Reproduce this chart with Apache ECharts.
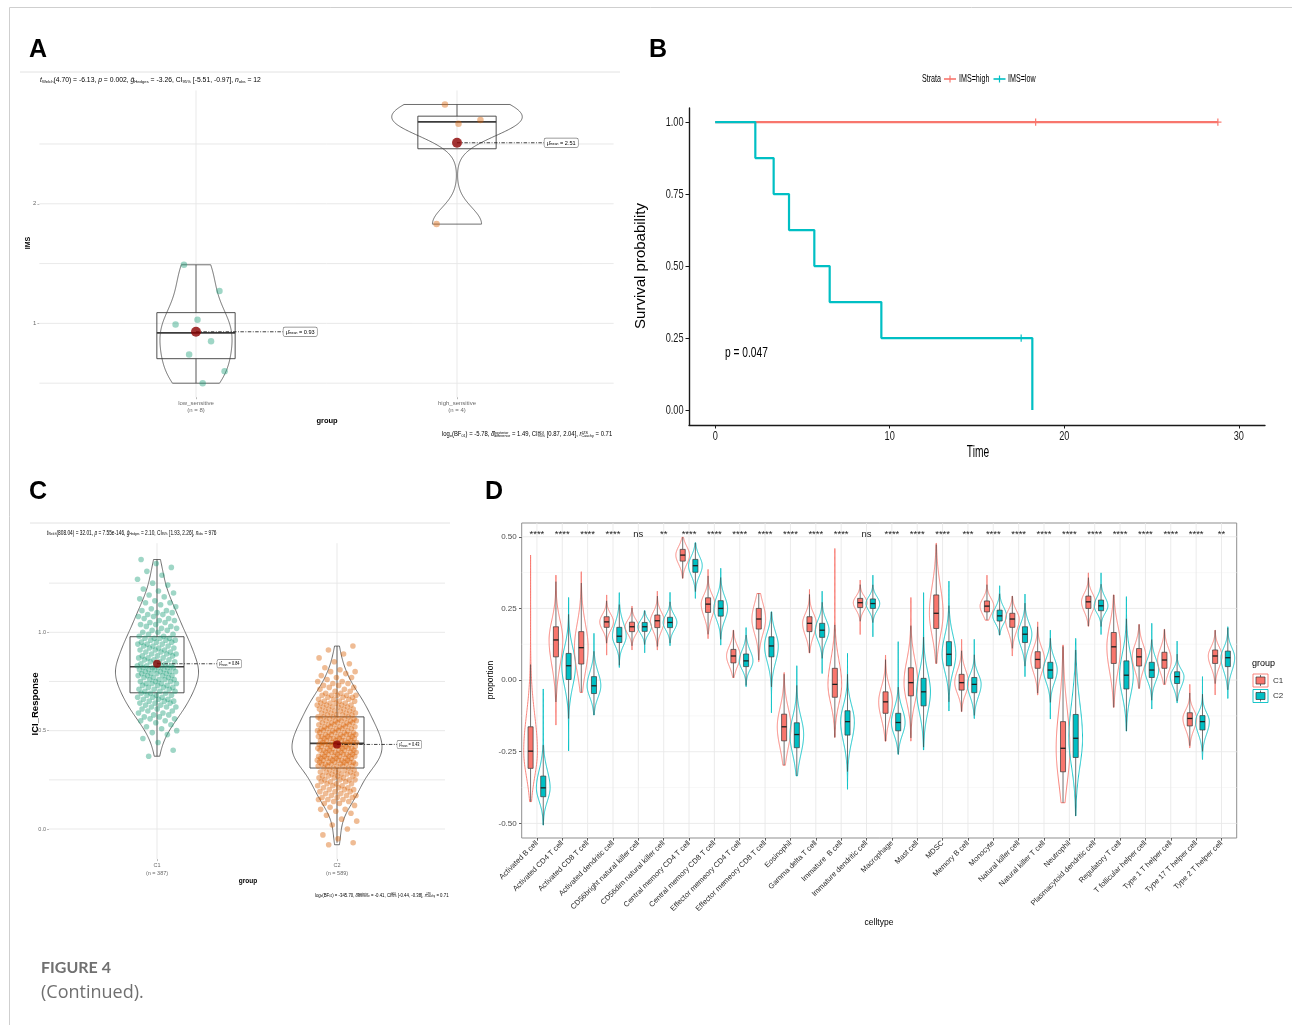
<!DOCTYPE html>
<html>
<head>
<meta charset="utf-8">
<title>Figure 4 (Continued)</title>
<script src="https://cdn.jsdelivr.net/npm/echarts@6/dist/echarts.min.js"></script>
<style>
html, body { margin: 0; padding: 0; background: #ffffff; }
#fig { width: 1292px; height: 1025px; }
</style>
</head>
<body>
<div id="fig"></div>
<script>
// ---------- A: IMS by drug-sensitivity group ----------
const imsGroups = ['low_sensitive', 'high_sensitive'];
const imsCounts = [8, 4];
const imsLow = [1.49, 1.27, 1.03, 0.99, 0.85, 0.74, 0.60, 0.50];
const imsHigh = [2.83, 2.70, 2.67, 1.83];
const imsMeans = [0.93, 2.51];
const imsTicks = [1, 2];
const imsGridVals = [0.5, 1, 1.5, 2, 2.5];

// ---------- B: Kaplan-Meier curves by IMS ----------
const kmStrata = ['IMS=high', 'IMS=low'];
const kmHighTime = [0, 28.8];
const kmHighSurv = [1, 1];
const kmHighCensorTime = [18.36, 28.8];
const kmHighCensorSurv = [1, 1];
const kmLowTime = [0, 2.3, 3.35, 4.23, 5.68, 6.56, 9.52, 18.17];
const kmLowSurv = [1, 0.875, 0.75, 0.625, 0.5, 0.375, 0.25, 0];
const kmLowCensorTime = [17.53];
const kmLowCensorSurv = [0.25];
const kmTimeTicks = [0, 10, 20, 30];
const kmSurvTicks = [0, 0.25, 0.5, 0.75, 1];
const kmPValue = 0.047;

// ---------- C: ICI response by cluster ----------
const iciGroups = ['C1', 'C2'];
const iciCounts = [387, 589];
const iciC1 = [
  0.37,0.40,0.44,0.46,0.48,0.49,0.50,0.51,0.52,0.53,
  0.54,0.55,0.55,0.56,0.56,0.57,0.57,0.58,0.58,
  0.59,0.59,0.60,0.60,0.61,0.61,0.62,0.62,0.62,0.63,0.63,0.64,0.64,0.64,0.65,0.65,0.65,0.66,0.66,0.66,0.67,0.67,0.67,0.68,0.68,0.68,0.69,0.69,
  0.69,0.70,0.70,0.70,0.71,0.71,0.71,0.72,0.72,0.72,0.73,0.73,0.73,0.74,0.74,0.74,0.74,0.75,0.75,0.75,0.76,0.76,0.76,0.76,0.77,0.77,0.77,0.78,0.78,0.78,0.78,0.79,0.79,0.79,0.79,0.80,0.80,0.80,0.80,0.81,0.81,0.81,0.81,0.82,0.82,0.82,0.82,0.82,
  0.83,0.83,0.83,0.83,0.84,0.84,0.84,0.85,0.85,0.85,0.86,0.86,0.86,0.87,0.87,0.87,0.88,0.88,0.88,0.89,0.89,0.89,0.90,0.90,0.90,0.91,0.91,0.91,0.92,0.92,0.92,0.93,0.93,0.93,0.94,0.94,0.94,0.95,0.95,0.95,0.96,0.96,0.96,0.97,0.97,0.97,0.97,
  0.98,0.98,0.99,0.99,1.00,1.00,1.01,1.01,1.02,1.02,1.03,1.03,1.04,1.04,1.05,1.05,1.06,1.06,1.07,1.07,1.08,1.08,1.09,1.09,1.10,1.10,1.11,1.11,1.12,
  1.13,1.14,1.15,1.15,1.16,1.17,1.18,1.19,1.20,1.21,
  1.22,1.24,1.25,1.27,1.29,1.31,1.33,1.35,1.37
];
const iciC2 = [
  -0.08,-0.07,-0.05,-0.03,0.00,0.02,0.04,0.05,0.07,0.08,0.09,0.10,0.10,0.11,0.12,
  0.13,0.13,0.14,0.14,0.15,0.15,0.15,0.16,0.16,0.16,0.17,0.17,0.17,0.18,
  0.18,0.19,0.19,0.19,0.20,0.20,0.20,0.21,0.21,0.21,0.22,0.22,0.22,0.23,0.23,0.23,0.24,0.24,0.24,0.25,0.25,0.25,0.25,0.26,0.26,0.26,0.27,0.27,0.27,0.27,0.28,0.28,0.28,0.28,0.29,0.29,0.29,0.29,0.30,0.30,0.30,0.30,0.31,0.31,
  0.31,0.32,0.32,0.32,0.32,0.32,0.33,0.33,0.33,0.33,0.33,0.33,0.34,0.34,0.34,0.34,0.34,0.34,0.35,0.35,0.35,0.35,0.35,0.35,0.36,0.36,0.36,0.36,0.36,0.36,
  0.37,0.37,0.37,0.37,0.37,0.37,0.38,0.38,0.38,0.38,0.38,0.38,0.39,0.39,0.39,0.39,0.39,0.39,0.40,0.40,0.40,0.40,0.40,0.40,0.41,0.41,0.41,0.41,0.41,0.41,
  0.42,0.42,0.42,0.42,0.42,0.42,0.43,0.43,0.43,0.43,0.43,0.43,
  0.44,0.44,0.44,0.44,0.44,0.44,0.45,0.45,0.45,0.45,0.45,0.45,0.46,0.46,0.46,0.46,0.46,0.46,0.47,0.47,0.47,0.47,0.47,0.47,0.48,0.48,0.48,0.48,0.48,0.48,
  0.49,0.49,0.49,0.49,0.49,0.50,0.50,0.50,0.50,0.50,0.51,0.51,0.51,0.51,0.51,0.52,0.52,0.52,0.52,0.52,0.53,0.53,0.53,0.53,0.53,
  0.54,0.54,0.54,0.54,0.54,0.55,0.55,0.55,0.55,0.55,0.56,0.56,0.56,0.56,0.56,0.57,0.57,
  0.57,0.57,0.58,0.58,0.58,0.58,0.59,0.59,0.59,0.59,0.60,0.60,0.60,0.60,0.61,0.61,0.61,0.61,0.62,0.62,0.62,0.62,0.63,0.63,0.63,0.63,0.64,0.64,0.64,0.64,0.65,0.65,0.65,0.66,0.66,0.66,0.67,0.67,0.67,0.68,0.68,0.68,0.68,
  0.68,0.69,0.69,0.70,0.70,0.71,0.71,0.72,0.72,0.73,0.73,0.74,0.74,0.75,0.75,
  0.76,0.77,0.77,0.78,0.79,0.80,0.80,0.81,0.82,0.84,0.85,0.87,0.89,0.91,0.93
];
const iciMeans = [0.84, 0.43];
const iciTicks = [0, 0.5, 1];
const iciGridVals = [0, 0.25, 0.5, 0.75, 1, 1.25];

// ---------- D: immune cell proportions, C1 vs C2 ----------
const cellTypes = [
  'Activated B cell', 'Activated CD4 T cell', 'Activated CD8 T cell', 'Activated dendritic cell',
  'CD56bright natural killer cell', 'CD56dim natural killer cell', 'Central memory CD4 T cell',
  'Central memory CD8 T cell', 'Effector memeory CD4 T cell', 'Effector memeory CD8 T cell',
  'Eosinophil', 'Gamma delta T cell', 'Immature  B cell', 'Immature dendritic cell', 'Macrophage',
  'Mast cell', 'MDSC', 'Memory B cell', 'Monocyte', 'Natural killer cell', 'Natural killer T cell',
  'Neutrophil', 'Plasmacytoid dendritic cell', 'Regulatory T cell', 'T follicular helper cell',
  'Type 1 T helper cell', 'Type 17 T helper cell', 'Type 2 T helper cell'
];
const sigLabels = ['****','****','****','****','ns','**','****','****','****','****','****','****','****','ns',
  '****','****','****','***','****','****','****','****','****','****','****','****','****','**'];
// five-number summaries per cell type: min, lower quartile, median, upper quartile, max
const c1Min = [-0.424,-0.157,-0.043,0.087,0.105,0.105,0.355,0.145,0.009,0.064,-0.297,0.095,-0.200,0.159,-0.213,-0.213,0.058,-0.110,0.209,0.084,-0.052,-0.428,0.188,-0.095,-0.029,-0.015,-0.236,-0.052];
const c1Q1  = [-0.308,0.081,0.056,0.184,0.169,0.183,0.415,0.236,0.060,0.178,-0.212,0.169,-0.060,0.253,-0.116,-0.055,0.180,-0.035,0.238,0.184,0.041,-0.320,0.250,0.058,0.049,0.041,-0.160,0.058];
const c1Med = [-0.248,0.140,0.113,0.203,0.186,0.207,0.436,0.265,0.084,0.213,-0.163,0.198,-0.015,0.270,-0.076,-0.009,0.233,-0.009,0.258,0.213,0.072,-0.238,0.273,0.116,0.081,0.070,-0.134,0.084];
const c1Q3  = [-0.163,0.186,0.169,0.221,0.202,0.227,0.456,0.287,0.107,0.250,-0.119,0.221,0.041,0.285,-0.041,0.043,0.297,0.020,0.276,0.233,0.099,-0.145,0.293,0.166,0.110,0.097,-0.114,0.105];
const c1Max = [0.436,0.366,0.378,0.297,0.258,0.310,0.498,0.386,0.174,0.302,0.026,0.316,0.459,0.349,0.087,0.288,0.477,0.142,0.366,0.293,0.203,0.122,0.374,0.297,0.194,0.177,-0.015,0.174];
const c2Min = [-0.506,-0.247,-0.122,0.044,0.095,0.120,0.285,0.122,-0.023,-0.114,-0.334,0.023,-0.381,0.151,-0.259,-0.244,-0.108,-0.134,0.157,0.012,-0.136,-0.474,0.159,-0.178,-0.101,-0.079,-0.277,-0.064];
const c2Q1  = [-0.407,0.002,-0.047,0.131,0.170,0.183,0.376,0.223,0.047,0.081,-0.236,0.149,-0.192,0.250,-0.177,-0.090,0.050,-0.044,0.206,0.131,0.006,-0.270,0.242,-0.031,0.009,-0.012,-0.174,0.047];
const c2Med = [-0.376,0.050,-0.020,0.153,0.186,0.201,0.399,0.250,0.067,0.119,-0.190,0.174,-0.145,0.267,-0.148,-0.041,0.090,-0.015,0.224,0.160,0.035,-0.203,0.259,0.017,0.035,0.012,-0.145,0.078];
const c2Q3  = [-0.335,0.093,0.012,0.184,0.201,0.219,0.421,0.277,0.091,0.151,-0.149,0.198,-0.107,0.283,-0.116,0.006,0.134,0.009,0.244,0.186,0.062,-0.120,0.279,0.067,0.062,0.029,-0.124,0.101];
const c2Max = [-0.031,0.288,0.163,0.305,0.242,0.306,0.479,0.390,0.183,0.238,0.050,0.310,0.093,0.366,0.134,0.305,0.345,0.142,0.329,0.300,0.174,0.145,0.374,0.291,0.198,0.136,0.012,0.186];
const propTicks = [-0.5, -0.25, 0, 0.25, 0.5];
const propMinor = [-0.375, -0.125, 0.125, 0.375];

// ================= drawing =================
const FONT = "'Liberation Sans', Arial, Helvetica, sans-serif";
const RED = '#F8766D', TEAL = '#00BFC4';
const PT_GREEN = '#1b9e77', PT_ORANGE = '#d95f02', MEAN_COL = '#8b0000';
const KM_SQUEEZE = 0.68;   // panel B text is set in a compressed face

// pixel boxes of the four plotting panels and their axis ranges
const P = {
  A: { box: { left: 39.4, top: 90.5, width: 574.2, height: 306.7 }, x: [0.4, 2.6], y: [0.383, 2.947] },
  B: { box: { left: 689, top: 108, width: 576, height: 317 }, x: [-1.5, 31.5], y: [-0.052, 1.049] },
  C: { box: { left: 49, top: 543.2, width: 396, height: 315.9 }, x: [0.4, 2.6], y: [-0.153, 1.453] },
  D: { box: { left: 521.7, top: 523, width: 715, height: 315 }, x: [0.4, 28.6], y: [-0.551, 0.548] }
};

// ---- small statistics helpers ----
const sortNum = a => a.slice().sort((p, q) => p - q);
function q7(s, p) {
  const h = (s.length - 1) * p, l = Math.floor(h), u = Math.min(l + 1, s.length - 1);
  return s[l] + (h - l) * (s[u] - s[l]);
}
function boxStats(vals) {
  const s = sortNum(vals);
  const q1 = q7(s, 0.25), md = q7(s, 0.5), q3 = q7(s, 0.75), iqr = q3 - q1;
  const lo = s.find(v => v >= q1 - 1.5 * iqr);
  const hi = s.slice().reverse().find(v => v <= q3 + 1.5 * iqr);
  return { q1, md, q3, lw: Math.min(lo, q1), hw: Math.max(hi, q3) };
}
function bwNrd0(vals) {
  const n = vals.length, m = vals.reduce((a, b) => a + b, 0) / n;
  const sd = Math.sqrt(vals.reduce((a, v) => a + (v - m) * (v - m), 0) / (n - 1));
  const s = sortNum(vals), iqr = q7(s, 0.75) - q7(s, 0.25);
  let lo = Math.min(sd, iqr / 1.34);
  if (!(lo > 0)) lo = sd;
  return 0.9 * lo * Math.pow(n, -0.2);
}
function kdeProfile(vals, steps) {
  const s = sortNum(vals), bw = bwNrd0(vals), lo = s[0], hi = s[s.length - 1];
  const norm = 1 / (vals.length * bw * Math.sqrt(2 * Math.PI));
  const out = [];
  for (let k = 0; k <= steps; k++) {
    const y = lo + (hi - lo) * k / steps;
    let d = 0;
    for (const v of vals) { const z = (y - v) / bw; d += Math.exp(-0.5 * z * z); }
    out.push([y, d * norm]);
  }
  return out;
}
function violinGroups(sets) {
  const groups = sets.map((vals, i) => ({ cat: i + 1, prof: kdeProfile(vals, 180), box: boxStats(vals) }));
  const maxD = Math.max(...groups.map(g => Math.max(...g.prof.map(p => p[1]))));
  groups.forEach(g => { g.maxD = maxD; });
  return groups;
}
// evenly spread horizontal jitter in [-1, 1]
const spread = i => 2 * ((i * 0.6180339887 + 0.29) % 1) - 1;

// ---- series builders ----
function gridLines(idx, pane, hMajor, vMajor, hMinor, majorCol, minorCol) {
  return {
    type: 'custom', xAxisIndex: idx, yAxisIndex: idx, z: 1, silent: true,
    data: [[(pane.x[0] + pane.x[1]) / 2, (pane.y[0] + pane.y[1]) / 2]],
    renderItem: (params, api) => {
      const ch = [];
      const seg = (a, b, col, w) => ch.push({ type: 'line', shape: { x1: a[0], y1: a[1], x2: b[0], y2: b[1] }, style: { stroke: col, lineWidth: w } });
      (hMinor || []).forEach(v => seg(api.coord([pane.x[0], v]), api.coord([pane.x[1], v]), minorCol, 0.6));
      hMajor.forEach(v => seg(api.coord([pane.x[0], v]), api.coord([pane.x[1], v]), majorCol, 0.9));
      vMajor.forEach(v => seg(api.coord([v, pane.y[0]]), api.coord([v, pane.y[1]]), majorCol, 0.9));
      return { type: 'group', children: ch };
    }
  };
}

function statPanelSeries(idx, sets, ptColors, ptSize, jitterW, means, dotSize, labelOff, labelFont, labelSqueeze) {
  const groups = violinGroups(sets);
  const out = [];
  out.push({
    type: 'custom', xAxisIndex: idx, yAxisIndex: idx, z: 2, silent: true,
    data: groups.map(g => [g.cat, g.box.md]),
    renderItem: (params, api) => {
      const g = groups[params.dataIndex];
      const right = g.prof.map(p => api.coord([g.cat + p[1] / g.maxD * 0.25, p[0]]));
      const left = g.prof.slice().reverse().map(p => api.coord([g.cat - p[1] / g.maxD * 0.25, p[0]]));
      const b = g.box;
      const tl = api.coord([g.cat - 0.15, b.q3]), br = api.coord([g.cat + 0.15, b.q1]);
      const mid = api.coord([g.cat, b.md]);
      const yHi = api.coord([g.cat, b.hw])[1], yLo = api.coord([g.cat, b.lw])[1];
      const ink = '#3c3c3c';
      return { type: 'group', children: [
        { type: 'polygon', shape: { points: right.concat(left) }, style: { fill: 'rgba(255,255,255,0)', stroke: '#4a4a4a', lineWidth: 0.8 } },
        { type: 'line', shape: { x1: mid[0], y1: tl[1], x2: mid[0], y2: yHi }, style: { stroke: ink, lineWidth: 0.8 } },
        { type: 'line', shape: { x1: mid[0], y1: br[1], x2: mid[0], y2: yLo }, style: { stroke: ink, lineWidth: 0.8 } },
        { type: 'rect', shape: { x: tl[0], y: tl[1], width: br[0] - tl[0], height: br[1] - tl[1] }, style: { fill: 'rgba(255,255,255,0)', stroke: ink, lineWidth: 0.9 } },
        { type: 'line', shape: { x1: tl[0], y1: mid[1], x2: br[0], y2: mid[1] }, style: { stroke: ink, lineWidth: 1.7 } }
      ] };
    }
  });
  sets.forEach((vals, gi) => {
    out.push({
      type: 'scatter', xAxisIndex: idx, yAxisIndex: idx, z: 3, silent: true,
      data: vals.map((v, i) => [gi + 1 + spread(i) * jitterW, v]),
      symbolSize: ptSize, itemStyle: { color: ptColors[gi], opacity: 0.42 }
    });
  });
  out.push({
    type: 'custom', xAxisIndex: idx, yAxisIndex: idx, z: 5, silent: true,
    data: means.map((m, i) => [i + 1, m]),
    renderItem: (params, api) => {
      const m = means[params.dataIndex], cat = params.dataIndex + 1;
      const a = api.coord([cat, m]), b = api.coord([cat + labelOff, m]);
      return { type: 'group', children: [
        { type: 'line', shape: { x1: a[0], y1: a[1], x2: b[0], y2: b[1] }, style: { stroke: '#111', lineWidth: 0.8, lineDash: [3.5, 1.5, 0.9, 1.5] } },
        { type: 'text', x: b[0], y: b[1], scaleX: labelSqueeze, style: {
          text: `{h|μ̂}{m|mean}{v| = ${m.toFixed(2)}}`,
          rich: {
            h: { fontSize: labelFont, fontFamily: FONT, color: '#222' },
            m: { fontSize: labelFont * 0.62, fontFamily: FONT, color: '#222', verticalAlign: 'bottom' },
            v: { fontSize: labelFont, fontFamily: FONT, color: '#222' }
          },
          align: 'left', verticalAlign: 'middle', backgroundColor: '#ffffff',
          borderColor: '#7a7a7a', borderWidth: 0.7, borderRadius: 1.5, padding: [1.5, 2.5, 1, 2.5]
        } }
      ] };
    }
  });
  out.push({
    type: 'scatter', xAxisIndex: idx, yAxisIndex: idx, z: 6, silent: true,
    data: means.map((m, i) => [i + 1, m]), symbolSize: dotSize, itemStyle: { color: MEAN_COL }
  });
  return out;
}

function censorMarks(idx, pts, color) {
  return {
    type: 'custom', xAxisIndex: idx, yAxisIndex: idx, z: 4, silent: true, data: pts,
    renderItem: (params, api) => {
      const c = api.coord([api.value(0), api.value(1)]);
      return { type: 'group', children: [
        { type: 'line', shape: { x1: c[0], y1: c[1] - 3.6, x2: c[0], y2: c[1] + 3.6 }, style: { stroke: color, lineWidth: 1.2 } },
        { type: 'line', shape: { x1: c[0] - 3.6, y1: c[1], x2: c[0] + 3.6, y2: c[1] }, style: { stroke: color, lineWidth: 1.2 } }
      ] };
    }
  };
}

// split-normal outline fitted to a five-number summary, trimmed to [min, max]
function summaryProfile(s, steps) {
  const [mn, q1, md, q3, mx] = s;
  const sL = Math.max((md - q1) / 0.6745, 1e-4), sR = Math.max((q3 - md) / 0.6745, 1e-4);
  const pts = [];
  for (let k = 0; k <= steps; k++) {
    const y = mn + (mx - mn) * k / steps;
    const z = (y - md) / (y < md ? sL : sR);
    pts.push([y, Math.exp(-0.5 * z * z)]);
  }
  return pts;
}
const dViolins = [];
cellTypes.forEach((name, i) => {
  const s1 = [c1Min[i], c1Q1[i], c1Med[i], c1Q3[i], c1Max[i]];
  const s2 = [c2Min[i], c2Q1[i], c2Med[i], c2Q3[i], c2Max[i]];
  dViolins.push({ cat: i + 1 - 0.25, s: s1, col: RED, prof: summaryProfile(s1, 160) });
  dViolins.push({ cat: i + 1 + 0.25, s: s2, col: TEAL, prof: summaryProfile(s2, 160) });
});

const series = [];
// ---- panel A
series.push(gridLines(0, P.A, imsGridVals, [1, 2], null, '#e6e6e6', '#e6e6e6'));
series.push(...statPanelSeries(0, [imsLow, imsHigh], [PT_GREEN, PT_ORANGE], 6.5, 0.11, imsMeans, 10, 0.335, 6.2, 0.9));
// ---- panel B
const pairs = (xs, ys) => xs.map((x, i) => [x, ys[i]]);
series.push({ type: 'line', xAxisIndex: 1, yAxisIndex: 1, z: 3, silent: true, step: 'end', symbol: 'none',
  data: pairs(kmHighTime, kmHighSurv), lineStyle: { color: RED, width: 2.2 }, itemStyle: { color: RED } });
series.push({ type: 'line', xAxisIndex: 1, yAxisIndex: 1, z: 3, silent: true, step: 'end', symbol: 'none',
  data: pairs(kmLowTime, kmLowSurv), lineStyle: { color: TEAL, width: 2.2 }, itemStyle: { color: TEAL } });
series.push(censorMarks(1, pairs(kmHighCensorTime, kmHighCensorSurv), RED));
series.push(censorMarks(1, pairs(kmLowCensorTime, kmLowCensorSurv), TEAL));
// tick labels of panel B, drawn in the compressed face
series.push({
  type: 'custom', xAxisIndex: 1, yAxisIndex: 1, z: 4, silent: true,
  data: kmTimeTicks.map(t => [t, P.B.y[0]]),
  renderItem: (params, api) => {
    const c = api.coord([api.value(0), api.value(1)]);
    return { type: 'text', x: c[0], y: c[1] + 11.5, scaleX: KM_SQUEEZE, style: { text: String(kmTimeTicks[params.dataIndex]),
      fontSize: 13.5, fontFamily: FONT, fill: '#1a1a1a', align: 'center', verticalAlign: 'middle' } };
  }
});
series.push({
  type: 'custom', xAxisIndex: 1, yAxisIndex: 1, z: 4, silent: true,
  data: kmSurvTicks.map(v => [P.B.x[0], v]),
  renderItem: (params, api) => {
    const c = api.coord([api.value(0), api.value(1)]);
    return { type: 'text', x: c[0] - 5.5, y: c[1], scaleX: KM_SQUEEZE, style: { text: kmSurvTicks[params.dataIndex].toFixed(2),
      fontSize: 13.5, fontFamily: FONT, fill: '#1a1a1a', align: 'right', verticalAlign: 'middle' } };
  }
});
// ---- panel C
series.push(gridLines(2, P.C, iciGridVals, [1, 2], null, '#e6e6e6', '#e6e6e6'));
series.push(...statPanelSeries(2, [iciC1, iciC2], [PT_GREEN, PT_ORANGE], 5.6, 0.11, iciMeans, 8, 0.335, 5.2, 0.75));
// ---- panel D
series.push(gridLines(3, P.D, propTicks, cellTypes.map((c, i) => i + 1), propMinor, '#e9e9e9', '#f4f4f4'));
series.push({
  type: 'custom', xAxisIndex: 3, yAxisIndex: 3, z: 2, silent: true,
  data: dViolins.map(v => [v.cat, v.s[2]]),
  renderItem: (params, api) => {
    const v = dViolins[params.dataIndex];
    const [mn, q1, md, q3, mx] = v.s, iqr = q3 - q1;
    const lw = Math.max(mn, q1 - 1.5 * iqr), hw = Math.min(mx, q3 + 1.5 * iqr);
    const right = v.prof.map(p => api.coord([v.cat + p[1] * 0.27, p[0]]));
    const left = v.prof.slice().reverse().map(p => api.coord([v.cat - p[1] * 0.27, p[0]]));
    const mid = api.coord([v.cat, md]);
    const tl = api.coord([v.cat - 0.1, q3]), br = api.coord([v.cat + 0.1, q1]);
    const yHi = api.coord([v.cat, hw])[1], yLo = api.coord([v.cat, lw])[1];
    return { type: 'group', children: [
      { type: 'polygon', shape: { points: right.concat(left) }, style: { fill: 'rgba(255,255,255,0)', stroke: v.col, lineWidth: 0.9 } },
      { type: 'line', shape: { x1: mid[0], y1: tl[1], x2: mid[0], y2: yHi }, style: { stroke: '#333', lineWidth: 0.7 } },
      { type: 'line', shape: { x1: mid[0], y1: br[1], x2: mid[0], y2: yLo }, style: { stroke: '#333', lineWidth: 0.7 } },
      { type: 'rect', shape: { x: tl[0], y: tl[1], width: br[0] - tl[0], height: br[1] - tl[1] }, style: { fill: v.col, stroke: '#333', lineWidth: 0.7 } },
      { type: 'line', shape: { x1: tl[0], y1: mid[1], x2: br[0], y2: mid[1] }, style: { stroke: '#1e1e1e', lineWidth: 1.3 } }
    ] };
  }
});
series.push({
  type: 'custom', xAxisIndex: 3, yAxisIndex: 3, z: 4, silent: true,
  data: sigLabels.map((s, i) => [i + 1, 0.49]),
  renderItem: (params, api) => {
    const c = api.coord([api.value(0), api.value(1)]);
    return { type: 'text', x: c[0], y: c[1], style: { text: sigLabels[params.dataIndex], fontSize: 9.5, fontFamily: FONT, fill: '#222', align: 'center', verticalAlign: 'bottom' } };
  }
});

// ---- axes
function axis(idx, range, extra) {
  return Object.assign({
    type: 'value', gridIndex: idx, min: range[0], max: range[1],
    splitLine: { show: false }, axisLine: { show: false, onZero: false },
    axisTick: { show: false }, axisLabel: { show: false }
  }, extra);
}
const faintTick = vals => ({ show: true, customValues: vals, length: 2, lineStyle: { color: '#8a8a8a', width: 0.6 } });
const xAxes = [
  axis(0, P.A.x, {
    axisTick: faintTick([1, 2]),
    axisLabel: { show: true, customValues: [1, 2], margin: 3, fontSize: 6, lineHeight: 7, color: '#6a6a6a', fontFamily: FONT,
      formatter: v => `${imsGroups[Math.round(v) - 1]}\n(n = ${imsCounts[Math.round(v) - 1]})` }
  }),
  axis(1, P.B.x, {
    axisLine: { show: true, onZero: false, lineStyle: { color: '#1a1a1a', width: 1.4 } },
    axisTick: { show: true, customValues: kmTimeTicks, length: 3.5, lineStyle: { color: '#1a1a1a', width: 1 } }
  }),
  axis(2, P.C.x, {
    axisTick: faintTick([1, 2]),
    axisLabel: { show: true, customValues: [1, 2], margin: 2, fontSize: 5.5, lineHeight: 8, color: '#6a6a6a', fontFamily: FONT,
      formatter: v => `${iciGroups[Math.round(v) - 1]}\n(n = ${iciCounts[Math.round(v) - 1]})` }
  }),
  axis(3, P.D.x, {
    axisTick: { show: true, customValues: cellTypes.map((c, i) => i + 1), length: 2.7, lineStyle: { color: '#333', width: 0.8 } },
    axisLabel: { show: true, customValues: cellTypes.map((c, i) => i + 1), rotate: 45, margin: 4, fontSize: 7.5, color: '#2b2b2b', fontFamily: FONT,
      formatter: v => cellTypes[Math.round(v) - 1] }
  })
];
const yAxes = [
  axis(0, P.A.y, {
    axisTick: faintTick(imsTicks),
    axisLabel: { show: true, customValues: imsTicks, margin: 3, fontSize: 6, color: '#6a6a6a', fontFamily: FONT, formatter: v => String(v) }
  }),
  axis(1, P.B.y, {
    axisLine: { show: true, onZero: false, lineStyle: { color: '#1a1a1a', width: 1.4 } },
    axisTick: { show: true, customValues: kmSurvTicks, length: 3.5, lineStyle: { color: '#1a1a1a', width: 1 } }
  }),
  axis(2, P.C.y, {
    axisTick: faintTick(iciTicks),
    axisLabel: { show: true, customValues: iciTicks, margin: 3, fontSize: 5.5, color: '#6a6a6a', fontFamily: FONT, formatter: v => v.toFixed(1) }
  }),
  axis(3, P.D.y, {
    axisTick: { show: true, customValues: propTicks, length: 2.7, lineStyle: { color: '#333', width: 0.8 } },
    axisLabel: { show: true, customValues: propTicks, margin: 5, fontSize: 8, color: '#4d4d4d', fontFamily: FONT, formatter: v => v.toFixed(2) }
  })
];

// ---- static text and decorations
function txt(x, y, text, size, o) {
  o = o || {};
  const style = { text, fontSize: size, fontFamily: o.family || FONT, fontWeight: o.weight || 'normal',
    fontStyle: o.italic ? 'italic' : 'normal', fill: o.color || '#000', align: o.align || 'left', verticalAlign: o.valign || 'middle' };
  if (o.rich) style.rich = o.rich;
  return { type: 'text', x, y, rotation: o.rotation || 0, scaleX: o.scaleX || 1, silent: true, z: 20, style };
}
const seg = (x1, y1, x2, y2, color, w) => ({ type: 'line', silent: true, z: 20, shape: { x1, y1, x2, y2 }, style: { stroke: color, lineWidth: w || 1 } });
function richText(parts) { return parts.map(([k, t]) => `{${k}|${t}}`).join(''); }
function richStyles(b, color) {
  const base = { fontFamily: FONT, color };
  return {
    n: Object.assign({ fontSize: b }, base),
    i: Object.assign({ fontSize: b, fontStyle: 'italic' }, base),
    s: Object.assign({ fontSize: b * 0.62, verticalAlign: 'bottom', align: 'left' }, base),
    u: Object.assign({ fontSize: b * 0.62, verticalAlign: 'top', align: 'left', width: 0.01 }, base)
  };
}
const subA = richText([['i','t'],['s','Welch'],['n','(4.70) = -6.13, '],['i','p'],['n',' = 0.002, '],['i','ĝ'],['s','Hedges'],
  ['n',' = -3.26, CI'],['s','95%'],['n',' [-5.51, -0.97], '],['i','n'],['s','obs'],['n',' = 12']]);
const capA = richText([['n','log'],['s','e'],['n','(BF'],['s','01'],['n',') = -5.78, '],['i','δ̂'],['u','posterior'],['s','difference'],
  ['n',' = 1.49, CI'],['u','HDI'],['s','95%'],['n',' [0.87, 2.04], '],['i','r'],['u','JZS'],['s','Cauchy'],['n',' = 0.71']]);
const subC = richText([['i','t'],['s','Welch'],['n','(808.04) = 32.01, '],['i','p'],['n',' = 7.55e-146, '],['i','ĝ'],['s','Hedges'],
  ['n',' = 2.10, CI'],['s','95%'],['n',' [1.93, 2.26], '],['i','n'],['s','obs'],['n',' = 976']]);
const capC = richText([['n','log'],['s','e'],['n','(BF'],['s','01'],['n',') = -345.70, '],['i','δ̂'],['u','posterior'],['s','difference'],
  ['n',' = -0.41, CI'],['u','HDI'],['s','95%'],['n',' [-0.44, -0.38], '],['i','r'],['u','JZS'],['s','Cauchy'],['n',' = 0.71']]);

function legendKey(x, y, col) {
  return [
    { type: 'rect', silent: true, z: 20, shape: { x: x, y: y, width: 15, height: 13 }, style: { fill: '#fff', stroke: col, lineWidth: 0.9 } },
    seg(x + 7.5, y + 1, x + 7.5, y + 12, '#333', 0.7),
    { type: 'rect', silent: true, z: 21, shape: { x: x + 3, y: y + 3, width: 9, height: 7 }, style: { fill: col, stroke: '#333', lineWidth: 0.7 } },
    seg(x + 3, y + 6.5, x + 12, y + 6.5, '#1e1e1e', 1.2)
  ];
}
function strataKey(cx, y, col) {
  return [seg(cx - 6, y, cx + 6, y, col, 1.6), seg(cx, y - 3.5, cx, y + 3.5, col, 1.2)];
}

const graphics = [
  seg(9.5, 7.5, 1292, 7.5, '#cfcfcf', 1),
  seg(9.5, 7.5, 9.5, 1025, '#cfcfcf', 1),
  txt(38, 50, 'A', 25, { weight: 'bold', align: 'center' }),
  txt(658, 50, 'B', 25, { weight: 'bold', align: 'center' }),
  txt(38, 492, 'C', 25, { weight: 'bold', align: 'center' }),
  txt(494, 492, 'D', 25, { weight: 'bold', align: 'center' }),
  // A
  seg(20, 72, 620, 72, '#e2e2e2', 1),
  txt(40, 80, subA, 7, { rich: richStyles(7, '#222'), scaleX: 0.97 }),
  txt(442, 434, capA, 6.8, { rich: richStyles(6.8, '#222'), scaleX: 0.87 }),
  txt(28, 243, 'IMS', 7, { weight: 'bold', align: 'center', rotation: Math.PI / 2 }),
  txt(327, 421, 'group', 7.5, { weight: 'bold', align: 'center' }),
  // B
  txt(922, 79, 'Strata', 10.5, { scaleX: KM_SQUEEZE }),
  ...strataKey(950, 79, RED),
  txt(959, 79, kmStrata[0], 10.5, { scaleX: KM_SQUEEZE }),
  ...strataKey(999.5, 79, TEAL),
  txt(1008, 79, kmStrata[1], 10.5, { scaleX: KM_SQUEEZE }),
  txt(725, 353, `p = ${kmPValue}`, 15, { scaleX: KM_SQUEEZE }),
  txt(978, 452, 'Time', 16.5, { align: 'center', scaleX: 0.62 }),
  txt(641, 266, 'Survival probability', 15, { align: 'center', rotation: Math.PI / 2 }),
  // C
  seg(30, 523, 450, 523, '#e2e2e2', 1),
  txt(47, 533, subC, 6.3, { rich: richStyles(6.3, '#222'), scaleX: 0.76 }),
  txt(315, 895, capC, 6, { rich: richStyles(6, '#222'), scaleX: 0.72 }),
  txt(35, 704, 'ICI_Response', 9.5, { weight: 'bold', align: 'center', rotation: Math.PI / 2 }),
  txt(248, 881, 'group', 6.5, { weight: 'bold', align: 'center' }),
  // D
  txt(879, 923, 'celltype', 8.5, { align: 'center' }),
  txt(491, 680, 'proportion', 8.5, { align: 'center', rotation: Math.PI / 2 }),
  txt(1252, 664, 'group', 9),
  ...legendKey(1253, 674, RED),
  txt(1273, 680.5, iciGroups[0], 8, { color: '#333' }),
  ...legendKey(1253, 689.5, TEAL),
  txt(1273, 696, iciGroups[1], 8, { color: '#333' }),
  // caption
  txt(41, 968, 'FIGURE 4', 16, { weight: 'bold', color: '#707070', family: "Lato, 'Open Sans', sans-serif" }),
  txt(41, 993, '(Continued).', 18, { color: '#707070', family: "'Open Sans', Lato, sans-serif" })
];

const chart = echarts.init(document.getElementById('fig'), null, { renderer: 'canvas', width: 1292, height: 1025 });
chart.setOption({
  animation: false,
  backgroundColor: '#ffffff',
  grid: [
    Object.assign({ show: false }, P.A.box),
    Object.assign({ show: false }, P.B.box),
    Object.assign({ show: false }, P.C.box),
    Object.assign({ show: true, borderColor: '#8f8f8f', borderWidth: 1, backgroundColor: 'transparent' }, P.D.box)
  ],
  xAxis: xAxes,
  yAxis: yAxes,
  series,
  graphic: graphics
});
</script>
</body>
</html>
